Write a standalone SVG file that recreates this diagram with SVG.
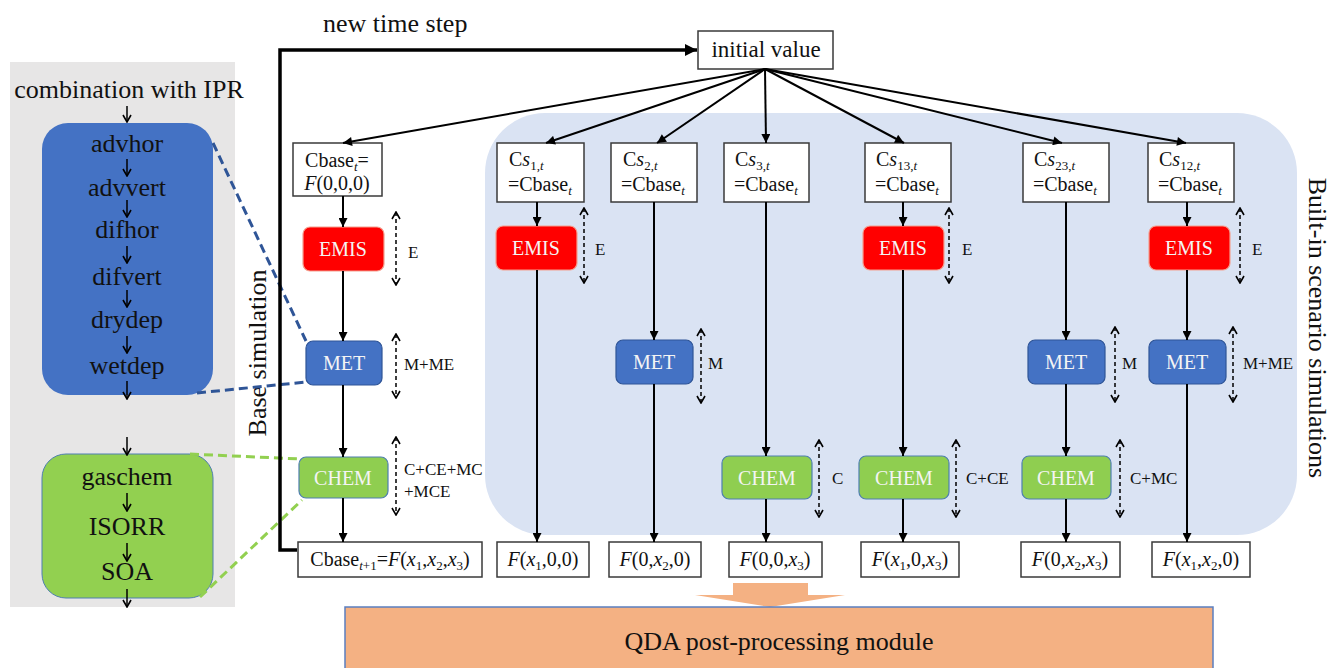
<svg xmlns="http://www.w3.org/2000/svg" width="1331" height="668" viewBox="0 0 1331 668" font-family="'Liberation Serif', 'DejaVu Serif', serif">
<style>
text{font-family:'Liberation Serif','DejaVu Serif',serif;fill:#111}
.b{fill:#fff;stroke:#3a3a3a;stroke-width:1.5}
.emis{fill:#ff0000;stroke:#f4a090;stroke-width:1.2}
.met{fill:#4472c4;stroke:#2f5597;stroke-width:1.2}
.chem{fill:#8fce50;stroke:#4f7fb0;stroke-width:1.2}
.wt{fill:#f4f4f4;font-size:20px;text-anchor:middle}
.bx{font-size:20px}
.lb{font-size:17px}
.c{stroke:#000;stroke-width:2;fill:none}
.dd{stroke:#000;stroke-width:1.5;stroke-dasharray:4 3;fill:none}
.sm{stroke:#000;stroke-width:1.5;fill:none}
.lt{font-size:26px;text-anchor:middle}
</style>
<defs>
<marker id="ah" viewBox="0 0 10 10" refX="10" refY="5" markerWidth="10" markerHeight="9" markerUnits="userSpaceOnUse" orient="auto"><path d="M0,0 L10,5 L0,10 z" fill="#000"/></marker>
<marker id="ahb" viewBox="0 0 10 10" refX="10" refY="5" markerWidth="14" markerHeight="12" markerUnits="userSpaceOnUse" orient="auto"><path d="M0,0 L10,5 L0,10 z" fill="#000"/></marker>
<marker id="oh" viewBox="0 0 10 10" refX="9" refY="5" markerWidth="10" markerHeight="10" markerUnits="userSpaceOnUse" orient="auto-start-reverse"><path d="M2,1 L9,5 L2,9" fill="none" stroke="#000" stroke-width="1.6"/></marker>
</defs>

<!-- left panel -->
<g id="ipr-panel">
<rect x="10" y="62" width="225" height="545" fill="#e7e6e6"/>
<text class="lt" x="129" y="98">combination with IPR</text>
</g>
<g id="transport-box">
<rect x="42" y="123" width="171" height="272" rx="26" fill="#4472c4"/>
<text class="lt" x="127" y="152">advhor</text>
<text class="lt" x="127" y="196">advvert</text>
<text class="lt" x="127" y="238">difhor</text>
<text class="lt" x="127" y="285">difvert</text>
<text class="lt" x="127" y="328">drydep</text>
<text class="lt" x="127" y="374">wetdep</text>
</g>
<g id="chem-box">
<rect x="42" y="454" width="171" height="144" rx="24" fill="#92d050" stroke="#4f7fb0" stroke-width="1"/>
<text class="lt" x="127" y="485">gaschem</text>
<text class="lt" x="127" y="535">ISORR</text>
<text class="lt" x="127" y="580">SOA</text>
</g>
<g id="panel-arrows">
<line class="sm" x1="127" y1="106" x2="127" y2="122" marker-end="url(#oh)"/>
<line class="sm" x1="127" y1="159" x2="127" y2="176" marker-end="url(#oh)"/>
<line class="sm" x1="127" y1="200" x2="127" y2="217" marker-end="url(#oh)"/>
<line class="sm" x1="127" y1="246" x2="127" y2="263" marker-end="url(#oh)"/>
<line class="sm" x1="127" y1="290" x2="127" y2="307" marker-end="url(#oh)"/>
<line class="sm" x1="127" y1="336" x2="127" y2="353" marker-end="url(#oh)"/>
<line class="sm" x1="127" y1="381" x2="127" y2="399" marker-end="url(#oh)"/>
<line class="sm" x1="127" y1="437" x2="127" y2="455" marker-end="url(#oh)"/>
<line class="sm" x1="127" y1="493" x2="127" y2="511" marker-end="url(#oh)"/>
<line class="sm" x1="127" y1="543" x2="127" y2="561" marker-end="url(#oh)"/>
<line class="sm" x1="127" y1="589" x2="127" y2="607" marker-end="url(#oh)"/>
</g>

<!-- scenario background -->
<g id="scenario-region">
<rect x="485" y="113" width="812" height="422" rx="60" fill="#dae3f3"/>
<text x="1309" y="328" font-size="26" text-anchor="middle" transform="rotate(90 1309 328)">Built-in scenario simulations</text>
</g>

<g id="base-label">
<text x="266" y="353" font-size="26" text-anchor="middle" transform="rotate(-90 266 353)">Base simulation</text>
</g>

<g id="time-step-label"><text x="323" y="32" font-size="26">new time step</text></g>

<!-- dashed linkage lines -->
<g id="links">
<line x1="213" y1="143" x2="306" y2="341" stroke="#2f5597" stroke-width="3" stroke-dasharray="9 5"/>
<line x1="197" y1="393" x2="306" y2="382" stroke="#2f5597" stroke-width="3" stroke-dasharray="9 5"/>
<line x1="190" y1="454" x2="300" y2="459" stroke="#92d050" stroke-width="3" stroke-dasharray="9 5"/>
<line x1="200" y1="597" x2="302" y2="500" stroke="#92d050" stroke-width="3" stroke-dasharray="9 5"/>
</g>

<!-- nodes -->
<g id="initial-value">
<rect class="b" x="698" y="31" width="135" height="38"/>
<text x="766" y="57" font-size="23" text-anchor="middle">initial value</text>
</g>

<g id="cbase">
<rect class="b" x="293" y="143" width="89" height="53"/>
<text class="bx" x="337" y="167" text-anchor="middle">Cbase<tspan font-size="13" dy="4" font-style="italic">t</tspan><tspan dy="-4">=</tspan></text>
<text class="bx" x="337" y="190" text-anchor="middle"><tspan font-style="italic">F</tspan>(0,0,0)</text>
</g>
<g id="cs1">
<rect class="b" x="497" y="143" width="87" height="59"/>
<text class="bx" x="509" y="166">C<tspan font-style="italic">s</tspan><tspan font-size="13" dy="4">1,<tspan font-style="italic">t</tspan></tspan></text>
<text class="bx" x="508" y="191">=Cbase<tspan font-size="13" dy="4" font-style="italic">t</tspan></text>
</g>
<g id="cs2">
<rect class="b" x="611" y="143" width="86" height="59"/>
<text class="bx" x="623" y="166">C<tspan font-style="italic">s</tspan><tspan font-size="13" dy="4">2,<tspan font-style="italic">t</tspan></tspan></text>
<text class="bx" x="621" y="191">=Cbase<tspan font-size="13" dy="4" font-style="italic">t</tspan></text>
</g>
<g id="cs3">
<rect class="b" x="724" y="143" width="85" height="59"/>
<text class="bx" x="735" y="166">C<tspan font-style="italic">s</tspan><tspan font-size="13" dy="4">3,<tspan font-style="italic">t</tspan></tspan></text>
<text class="bx" x="734" y="191">=Cbase<tspan font-size="13" dy="4" font-style="italic">t</tspan></text>
</g>
<g id="cs13">
<rect class="b" x="865" y="143" width="86" height="59"/>
<text class="bx" x="876" y="166">C<tspan font-style="italic">s</tspan><tspan font-size="13" dy="4">13,<tspan font-style="italic">t</tspan></tspan></text>
<text class="bx" x="875" y="191">=Cbase<tspan font-size="13" dy="4" font-style="italic">t</tspan></text>
</g>
<g id="cs23">
<rect class="b" x="1023" y="143" width="86" height="59"/>
<text class="bx" x="1034" y="166">C<tspan font-style="italic">s</tspan><tspan font-size="13" dy="4">23,<tspan font-style="italic">t</tspan></tspan></text>
<text class="bx" x="1033" y="191">=Cbase<tspan font-size="13" dy="4" font-style="italic">t</tspan></text>
</g>
<g id="cs12">
<rect class="b" x="1148" y="143" width="86" height="59"/>
<text class="bx" x="1159" y="166">C<tspan font-style="italic">s</tspan><tspan font-size="13" dy="4">12,<tspan font-style="italic">t</tspan></tspan></text>
<text class="bx" x="1158" y="191">=Cbase<tspan font-size="13" dy="4" font-style="italic">t</tspan></text>
</g>

<g id="emis-base"><rect class="emis" x="303" y="227" width="81" height="44" rx="7"/><text class="wt" x="343" y="256">EMIS</text></g>
<g id="emis-1"><rect class="emis" x="496" y="226" width="81" height="44" rx="7"/><text class="wt" x="536" y="255">EMIS</text></g>
<g id="emis-13"><rect class="emis" x="863" y="226" width="81" height="44" rx="7"/><text class="wt" x="903" y="255">EMIS</text></g>
<g id="emis-12"><rect class="emis" x="1149" y="226" width="81" height="44" rx="7"/><text class="wt" x="1189" y="255">EMIS</text></g>

<g id="met-base"><rect class="met" x="306" y="341" width="76" height="44" rx="7"/><text class="wt" x="344" y="370">MET</text></g>
<g id="met-2"><rect class="met" x="616" y="340" width="77" height="44" rx="7"/><text class="wt" x="654" y="369">MET</text></g>
<g id="met-23"><rect class="met" x="1028" y="340" width="77" height="44" rx="7"/><text class="wt" x="1066" y="369">MET</text></g>
<g id="met-12"><rect class="met" x="1149" y="340" width="77" height="44" rx="7"/><text class="wt" x="1187" y="369">MET</text></g>

<g id="chem-base"><rect class="chem" x="299" y="457" width="89" height="41" rx="7"/><text class="wt" x="343" y="485">CHEM</text></g>
<g id="chem-3"><rect class="chem" x="722" y="456" width="90" height="43" rx="7"/><text class="wt" x="767" y="485">CHEM</text></g>
<g id="chem-13"><rect class="chem" x="859" y="456" width="90" height="43" rx="7"/><text class="wt" x="904" y="485">CHEM</text></g>
<g id="chem-23"><rect class="chem" x="1022" y="456" width="89" height="43" rx="7"/><text class="wt" x="1066" y="485">CHEM</text></g>

<g id="out-base"><rect class="b" x="298" y="542" width="184" height="35"/>
<text class="bx" x="390" y="566" text-anchor="middle">Cbase<tspan font-size="13" dy="4"><tspan font-style="italic">t</tspan>+1</tspan><tspan dy="-4">=</tspan><tspan font-style="italic">F</tspan>(<tspan font-style="italic">x</tspan><tspan font-size="13" dy="4">1</tspan><tspan dy="-4">,</tspan><tspan font-style="italic">x</tspan><tspan font-size="13" dy="4">2</tspan><tspan dy="-4">,</tspan><tspan font-style="italic">x</tspan><tspan font-size="13" dy="4">3</tspan><tspan dy="-4">)</tspan></text></g>
<g id="out-1"><rect class="b" x="497" y="542" width="92" height="35"/>
<text class="bx" x="543" y="566" text-anchor="middle"><tspan font-style="italic">F</tspan>(<tspan font-style="italic">x</tspan><tspan font-size="13" dy="4">1</tspan><tspan dy="-4">,0,0)</tspan></text></g>
<g id="out-2"><rect class="b" x="609" y="542" width="92" height="35"/>
<text class="bx" x="655" y="566" text-anchor="middle"><tspan font-style="italic">F</tspan>(0,<tspan font-style="italic">x</tspan><tspan font-size="13" dy="4">2</tspan><tspan dy="-4">,0)</tspan></text></g>
<g id="out-3"><rect class="b" x="729" y="542" width="93" height="35"/>
<text class="bx" x="775" y="566" text-anchor="middle"><tspan font-style="italic">F</tspan>(0,0,<tspan font-style="italic">x</tspan><tspan font-size="13" dy="4">3</tspan><tspan dy="-4">)</tspan></text></g>
<g id="out-13"><rect class="b" x="861" y="542" width="98" height="35"/>
<text class="bx" x="910" y="566" text-anchor="middle"><tspan font-style="italic">F</tspan>(<tspan font-style="italic">x</tspan><tspan font-size="13" dy="4">1</tspan><tspan dy="-4">,0,</tspan><tspan font-style="italic">x</tspan><tspan font-size="13" dy="4">3</tspan><tspan dy="-4">)</tspan></text></g>
<g id="out-23"><rect class="b" x="1021" y="542" width="99" height="35"/>
<text class="bx" x="1070" y="566" text-anchor="middle"><tspan font-style="italic">F</tspan>(0,<tspan font-style="italic">x</tspan><tspan font-size="13" dy="4">2</tspan><tspan dy="-4">,</tspan><tspan font-style="italic">x</tspan><tspan font-size="13" dy="4">3</tspan><tspan dy="-4">)</tspan></text></g>
<g id="out-12"><rect class="b" x="1152" y="542" width="98" height="35"/>
<text class="bx" x="1201" y="566" text-anchor="middle"><tspan font-style="italic">F</tspan>(<tspan font-style="italic">x</tspan><tspan font-size="13" dy="4">1</tspan><tspan dy="-4">,</tspan><tspan font-style="italic">x</tspan><tspan font-size="13" dy="4">2</tspan><tspan dy="-4">,0)</tspan></text></g>

<g id="qda">
<polygon points="733,583 808,583 808,595 845,595 770,607 695,595 733,595" fill="#f4b183"/>
<rect x="345" y="607" width="868" height="66" fill="#f4b183" stroke="#5b7fc0" stroke-width="1.5"/>
<text x="779" y="650" font-size="26" text-anchor="middle">QDA post-processing module</text>
</g>

<!-- connectors -->
<g id="connectors">
<polyline points="297,550 280,550 280,50 697,50" fill="none" stroke="#000" stroke-width="3.5" marker-end="url(#ahb)"/>
<line class="c" x1="765" y1="69" x2="343" y2="143" marker-end="url(#ah)"/>
<line class="c" x1="765" y1="69" x2="546" y2="143" marker-end="url(#ah)"/>
<line class="c" x1="765" y1="69" x2="657" y2="143" marker-end="url(#ah)"/>
<line class="c" x1="765" y1="69" x2="766" y2="143" marker-end="url(#ah)"/>
<line class="c" x1="765" y1="69" x2="904" y2="143" marker-end="url(#ah)"/>
<line class="c" x1="765" y1="69" x2="1062" y2="143" marker-end="url(#ah)"/>
<line class="c" x1="765" y1="69" x2="1186" y2="143" marker-end="url(#ah)"/>

<line class="c" x1="343" y1="196" x2="343" y2="227" marker-end="url(#ah)"/>
<line class="c" x1="343" y1="271" x2="343" y2="341" marker-end="url(#ah)"/>
<line class="c" x1="343" y1="385" x2="343" y2="457" marker-end="url(#ah)"/>
<line class="c" x1="343" y1="498" x2="343" y2="542" marker-end="url(#ah)"/>

<line class="c" x1="537" y1="202" x2="537" y2="226" marker-end="url(#ah)"/>
<line class="c" x1="537" y1="270" x2="537" y2="542" marker-end="url(#ah)"/>

<line class="c" x1="654" y1="202" x2="654" y2="340" marker-end="url(#ah)"/>
<line class="c" x1="654" y1="384" x2="654" y2="542" marker-end="url(#ah)"/>

<line class="c" x1="766" y1="202" x2="766" y2="456" marker-end="url(#ah)"/>
<line class="c" x1="766" y1="499" x2="766" y2="542" marker-end="url(#ah)"/>

<line class="c" x1="903" y1="202" x2="903" y2="226" marker-end="url(#ah)"/>
<line class="c" x1="903" y1="270" x2="903" y2="456" marker-end="url(#ah)"/>
<line class="c" x1="903" y1="499" x2="903" y2="542" marker-end="url(#ah)"/>

<line class="c" x1="1066" y1="202" x2="1066" y2="340" marker-end="url(#ah)"/>
<line class="c" x1="1066" y1="384" x2="1066" y2="456" marker-end="url(#ah)"/>
<line class="c" x1="1066" y1="499" x2="1066" y2="542" marker-end="url(#ah)"/>

<line class="c" x1="1187" y1="202" x2="1187" y2="226" marker-end="url(#ah)"/>
<line class="c" x1="1187" y1="270" x2="1187" y2="340" marker-end="url(#ah)"/>
<line class="c" x1="1187" y1="384" x2="1187" y2="542" marker-end="url(#ah)"/>

<!-- dashed double arrows -->
<line class="dd" x1="396" y1="212" x2="396" y2="285" marker-start="url(#oh)" marker-end="url(#oh)"/>
<line class="dd" x1="396" y1="334" x2="396" y2="398" marker-start="url(#oh)" marker-end="url(#oh)"/>
<line class="dd" x1="396" y1="437" x2="396" y2="515" marker-start="url(#oh)" marker-end="url(#oh)"/>
<line class="dd" x1="584" y1="208" x2="584" y2="283" marker-start="url(#oh)" marker-end="url(#oh)"/>
<line class="dd" x1="701" y1="329" x2="701" y2="403" marker-start="url(#oh)" marker-end="url(#oh)"/>
<line class="dd" x1="819" y1="440" x2="819" y2="517" marker-start="url(#oh)" marker-end="url(#oh)"/>
<line class="dd" x1="949" y1="208" x2="949" y2="283" marker-start="url(#oh)" marker-end="url(#oh)"/>
<line class="dd" x1="956" y1="440" x2="956" y2="517" marker-start="url(#oh)" marker-end="url(#oh)"/>
<line class="dd" x1="1115" y1="327" x2="1115" y2="402" marker-start="url(#oh)" marker-end="url(#oh)"/>
<line class="dd" x1="1120" y1="440" x2="1120" y2="517" marker-start="url(#oh)" marker-end="url(#oh)"/>
<line class="dd" x1="1240" y1="208" x2="1240" y2="283" marker-start="url(#oh)" marker-end="url(#oh)"/>
<line class="dd" x1="1233" y1="327" x2="1233" y2="402" marker-start="url(#oh)" marker-end="url(#oh)"/>
</g>

<g id="labels">
<text class="lb" x="408" y="258">E</text>
<text class="lb" x="404" y="370">M+ME</text>
<text class="lb" x="404" y="475">C+CE+MC</text>
<text class="lb" x="404" y="497">+MCE</text>
<text class="lb" x="595" y="255">E</text>
<text class="lb" x="708" y="369">M</text>
<text class="lb" x="832" y="484">C</text>
<text class="lb" x="962" y="255">E</text>
<text class="lb" x="966" y="484">C+CE</text>
<text class="lb" x="1122" y="369">M</text>
<text class="lb" x="1130" y="484">C+MC</text>
<text class="lb" x="1252" y="255">E</text>
<text class="lb" x="1243" y="369">M+ME</text>
</g>
</svg>
